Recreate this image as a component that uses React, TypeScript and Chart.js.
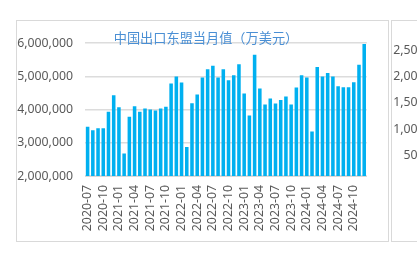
import React, { useEffect, useRef } from "react";
import { Chart, registerables } from "chart.js";

Chart.register(...registerables);

const TITLE = "中国出口东盟当月值（万美元）";

const months = [
  "2020-07", "2020-08", "2020-09", "2020-10", "2020-11", "2020-12",
  "2021-01", "2021-02", "2021-03", "2021-04", "2021-05", "2021-06",
  "2021-07", "2021-08", "2021-09", "2021-10", "2021-11", "2021-12",
  "2022-01", "2022-02", "2022-03", "2022-04", "2022-05", "2022-06",
  "2022-07", "2022-08", "2022-09", "2022-10", "2022-11", "2022-12",
  "2023-01", "2023-02", "2023-03", "2023-04", "2023-05", "2023-06",
  "2023-07", "2023-08", "2023-09", "2023-10", "2023-11", "2023-12",
  "2024-01", "2024-02", "2024-03", "2024-04", "2024-05", "2024-06",
  "2024-07", "2024-08", "2024-09", "2024-10", "2024-11", "2024-12",
];

const exportsToAsean = [
  3480000, 3380000, 3440000, 3440000, 3930000, 4430000,
  4070000, 2680000, 3780000, 4100000, 3930000, 4030000,
  4000000, 3970000, 4030000, 4080000, 4780000, 4990000,
  4810000, 2870000, 4190000, 4450000, 4960000, 5210000,
  5320000, 4960000, 5210000, 4880000, 5030000, 5360000,
  4480000, 3820000, 5650000, 4630000, 4150000, 4330000,
  4180000, 4290000, 4390000, 4150000, 4660000, 5030000,
  4960000, 3340000, 5280000, 4990000, 5100000, 4990000,
  4700000, 4670000, 4670000, 4820000, 5350000, 5970000,
];

const leftTicks = [2000000, 3000000, 4000000, 5000000, 6000000];
const rightTicks = [0, 500000, 1000000, 1500000, 2000000, 2500000];

const fmt = (v: number) => Number(v).toLocaleString("en-US");
const TICK_FONT = { family: "'Noto Sans', 'Open Sans', sans-serif", size: 12.3 };
const TICK_COLOR = "#595959";
const GRID_COLOR = "#dcdcdc";

function baseScales(yMin: number, yMax: number, ticks: number[]) {
  return {
    x: {
      grid: { display: false, drawTicks: false },
      border: { display: true, color: "#d9d9d9" },
      afterFit: (axis: any) => {
        axis.height = 56;
      },
      ticks: {
        autoSkip: false,
        maxRotation: 90,
        minRotation: 90,
        padding: 9,
        color: TICK_COLOR,
        font: TICK_FONT,
        callback: (_v: any, i: number) => (i % 3 === 0 ? months[i] : ""),
      },
    },
    y: {
      min: yMin,
      max: yMax,
      afterBuildTicks: (axis: any) => {
        axis.ticks = ticks.map((v) => ({ value: v }));
      },
      afterFit: (axis: any) => {
        axis.width = 68;
      },
      grid: { color: GRID_COLOR, lineWidth: 1.5, drawTicks: false },
      border: { display: false },
      ticks: {
        padding: 12,
        color: TICK_COLOR,
        font: TICK_FONT,
        callback: (v: any) => fmt(v),
      },
    },
  };
}

// Shift the centred title slightly to the right, as in the reference.
const titleShift = {
  id: "titleShift",
  afterLayout(chart: any) {
    const t = chart.titleBlock;
    if (t) {
      t.left += 10;
    }
  },
};

export default function App() {
  const leftRef = useRef<HTMLCanvasElement | null>(null);
  const rightRef = useRef<HTMLCanvasElement | null>(null);

  useEffect(() => {
    const c1 = new Chart(leftRef.current as HTMLCanvasElement, {
      type: "bar",
      data: {
        labels: months,
        datasets: [
          {
            data: exportsToAsean,
            backgroundColor: "#00B0F0",
            barPercentage: 0.68,
            categoryPercentage: 1,
          },
        ],
      },
      options: {
        animation: false,
        responsive: false,
        maintainAspectRatio: false,
        layout: { padding: { left: 0, right: 3, top: 0, bottom: 9 } },
        plugins: {
          legend: { display: false },
          tooltip: { enabled: false },
          title: {
            display: true,
            text: TITLE,
            color: "#4A8FD4",
            font: { family: "'Noto Sans CJK SC', sans-serif", size: 13.2, weight: "normal" },
            padding: { top: 9, bottom: -2.8 },
          },
        },
        scales: baseScales(2000000, 6000000, leftTicks) as any,
      },
      plugins: [titleShift],
    });

    const c2 = new Chart(rightRef.current as HTMLCanvasElement, {
      type: "bar",
      data: { labels: months, datasets: [] },
      options: {
        animation: false,
        responsive: false,
        maintainAspectRatio: false,
        layout: { padding: { left: 1, right: 3, top: 29.5, bottom: 3.4 } },
        plugins: { legend: { display: false }, tooltip: { enabled: false } },
        scales: baseScales(0, 2500000, rightTicks) as any,
      },
    });

    return () => {
      c1.destroy();
      c2.destroy();
    };
  }, []);

  const panel: React.CSSProperties = {
    position: "absolute",
    top: 20,
    width: 371,
    height: 220,
    border: "1px solid #d9d9d9",
    background: "#fff",
  };

  return (
    <div
      style={{
        position: "fixed",
        left: 0,
        top: 0,
        width: 417,
        height: 257,
        overflow: "hidden",
        background: "#fff",
      }}
    >
      <div style={{ ...panel, left: 16 }}>
        <canvas ref={leftRef} width={371} height={220} style={{ display: "block" }} />
      </div>
      <div style={{ ...panel, left: 391 }}>
        <canvas ref={rightRef} width={371} height={220} style={{ display: "block" }} />
      </div>
    </div>
  );
}
